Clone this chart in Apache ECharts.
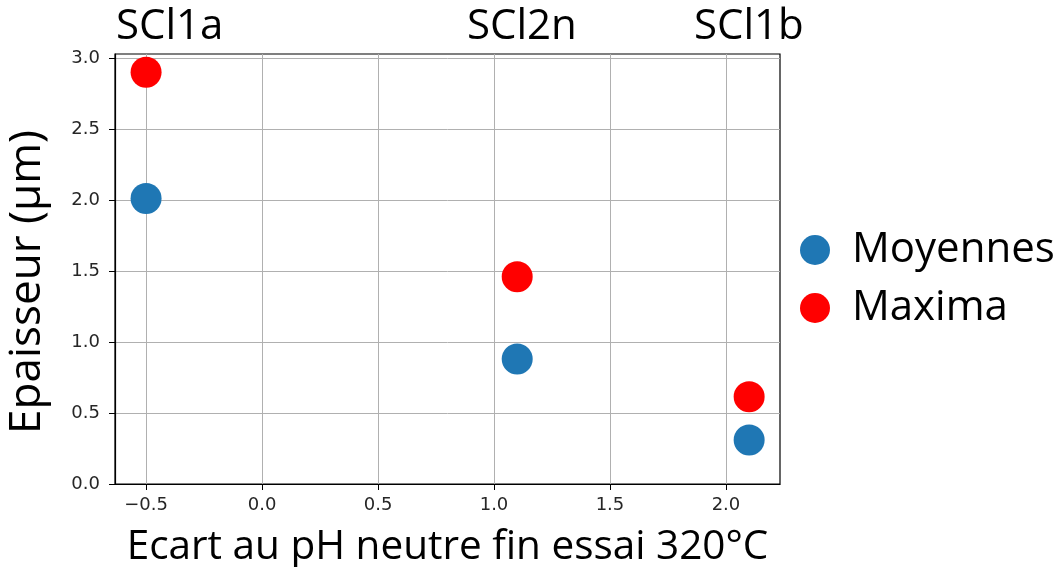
<!DOCTYPE html>
<html>
<head>
<meta charset="utf-8">
<script src="https://cdn.jsdelivr.net/npm/echarts@6/dist/echarts.min.js"></script>
<style>html,body{margin:0;padding:0;background:#fff;}#c{width:1057px;height:567px;}</style>
</head>
<body>
<div id="c"></div>
<script>
const xValues = [-0.5, 1.1, 2.1];
const moyennes = [2.01, 0.88, 0.31];
const maxima = [2.90, 1.46, 0.615];
const sampleLabels = ['SCl1a', 'SCl2n', 'SCl1b'];
const xTicks = [-0.5, 0.0, 0.5, 1.0, 1.5, 2.0];
const yTicks = [0.0, 0.5, 1.0, 1.5, 2.0, 2.5, 3.0];

const chart = echarts.init(document.getElementById('c'));
const bigFont = 'Open Sans';
const fmt = v => (v < 0 ? '\u2212' : '') + Math.abs(v).toFixed(1);
chart.setOption({
  animation: false,
  backgroundColor: '#fff',
  grid: {left: 115, right: 277, top: 54, bottom: 83, show: true, borderColor: '#000', borderWidth: 1.2,
         containLabel: false, outerBoundsMode: 'none'},
  legend: {
    orient: 'vertical', left: 800, top: 229, padding: 0, icon: 'circle', itemWidth: 30, itemHeight: 30, itemGap: 16,
    textStyle: {fontFamily: bigFont, fontSize: 42, color: '#000', padding: [0, 0, 0, 17]},
    data: ['Moyennes', 'Maxima']
  },
  graphic: [
    {type: 'text', left: 116, top: 6, style: {text: sampleLabels[0], font: '42px "Open Sans"', fill: '#000'}},
    {type: 'text', left: 467, top: 6, style: {text: sampleLabels[1], font: '42px "Open Sans"', fill: '#000'}},
    {type: 'text', left: 694, top: 6, style: {text: sampleLabels[2], font: '42px "Open Sans"', fill: '#000'}}
  ],
  xAxis: {
    type: 'value', min: -0.634, max: 2.233,
    name: 'Ecart au pH neutre fin essai 320°C', nameLocation: 'middle', nameGap: 43,
    nameTextStyle: {fontFamily: bigFont, fontSize: 40.5, color: '#000'},
    axisLine: {show: true, onZero: false, lineStyle: {color: '#000', width: 1.2}},
    axisTick: {show: true, length: 6, customValues: xTicks, lineStyle: {color: '#000'}},
    axisLabel: {customValues: xTicks, formatter: fmt, fontFamily: 'DejaVu Sans', fontSize: 18, color: '#262626', margin: 12},
    splitLine: {show: true, lineStyle: {color: '#b0b0b0', width: 1}}
  },
  yAxis: {
    type: 'value', min: 0, max: 3.028,
    name: 'Epaisseur (µm)', nameLocation: 'middle', nameGap: 66,
    nameTextStyle: {fontFamily: bigFont, fontSize: 44, color: '#000', padding: [0, 26, 0, 0]},
    axisLine: {show: true, onZero: false, lineStyle: {color: '#000', width: 1.2}},
    axisTick: {show: true, length: 6, customValues: yTicks, lineStyle: {color: '#000'}},
    axisLabel: {customValues: yTicks, formatter: fmt, fontFamily: 'DejaVu Sans', fontSize: 18, color: '#262626', margin: 15},
    splitLine: {show: true, lineStyle: {color: '#b0b0b0', width: 1}}
  },
  series: [
    {name: 'Moyennes', type: 'scatter', symbolSize: 31, itemStyle: {color: '#1f77b4', opacity: 1},
     data: xValues.map((x, i) => [x, moyennes[i]])},
    {name: 'Maxima', type: 'scatter', symbolSize: 31, itemStyle: {color: '#ff0000', opacity: 1},
     data: xValues.map((x, i) => [x, maxima[i]])}
  ]
});
</script>
</body>
</html>
